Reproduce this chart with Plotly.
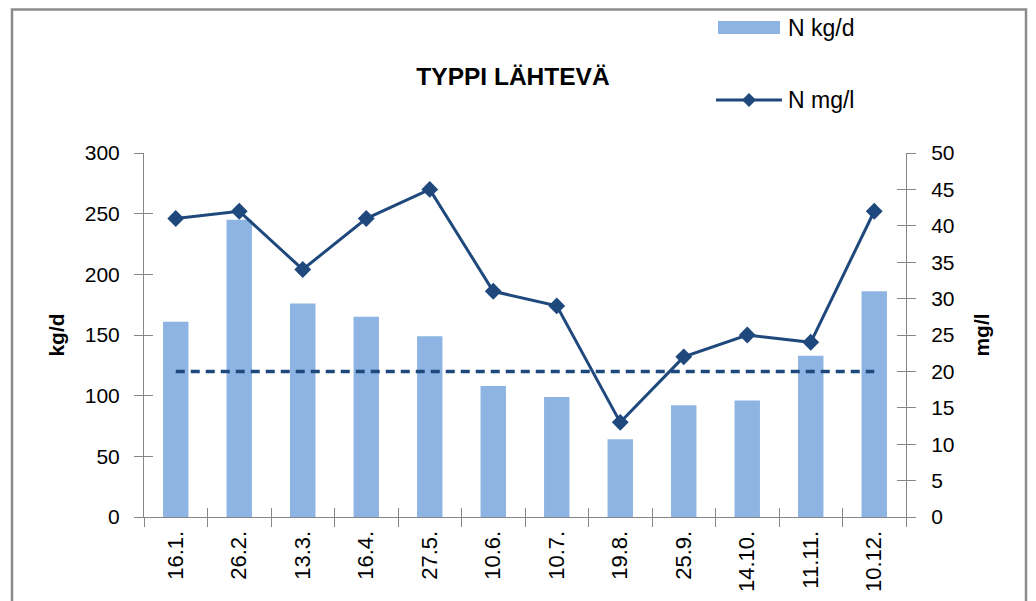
import plotly.graph_objects as go

# ---- data ----
dates = ["16.1.", "26.2.", "13.3.", "16.4.", "27.5.", "10.6.", "10.7.",
         "19.8.", "25.9.", "14.10.", "11.11.", "10.12."]
n_kgd = [161, 245, 176, 165, 149, 108, 99, 64, 92, 96, 133, 186]
n_mgl = [41, 42, 34, 41, 45, 31, 29, 13, 22, 25, 24, 42]
limit_mgl = [20, 20, 20, 20, 20, 20, 20, 20, 20, 20, 20, 20]
left_ticks = [0, 50, 100, 150, 200, 250, 300]
right_ticks = [0, 5, 10, 15, 20, 25, 30, 35, 40, 45, 50]
legend_names = ["N kg/d", "N mg/l"]

BAR = "#8DB4E2"
LINE = "#1F497D"
AXIS = "#868686"
FONT = "Liberation Sans"

W, H = 1036, 601
OFF = 8  # page body margin offset in the browser
# plot area in screen pixels
L, R, T, B = 144, 906, 153, 517
PW, PH = R - L, B - T


def px(x):
    return (x - L) / PW


def py(y):
    return (B - y) / PH


fig = go.Figure()
fig.add_trace(go.Bar(x=dates, y=n_kgd, name=legend_names[0],
                     marker=dict(color=BAR, line=dict(width=0)), yaxis="y"))
fig.add_trace(go.Scatter(x=dates, y=limit_mgl, mode="lines",
                         line=dict(color=LINE, width=3.5, dash="9px,6px"), yaxis="y2"))
fig.add_trace(go.Scatter(x=dates, y=n_mgl, name=legend_names[1], mode="lines+markers",
                         line=dict(color=LINE, width=3),
                         marker=dict(symbol="diamond", size=13, color=LINE), yaxis="y2"))
# empty traces so the overlay (inner) tick axes are drawn
fig.add_trace(go.Scatter(x=[], y=[], xaxis="x2", yaxis="y3"))
fig.add_trace(go.Scatter(x=[], y=[], xaxis="x2", yaxis="y4"))

n = len(dates)
boundaries = [i - 0.5 for i in range(n + 1)]

fig.update_layout(
    width=W, height=H,
    margin=dict(l=L - OFF, r=W - (R - OFF), t=T - OFF, b=H - (B - OFF), autoexpand=False),
    paper_bgcolor="white", plot_bgcolor="white",
    font=dict(family=FONT, size=21, color="#000000"),
    bargap=0.6,
    showlegend=False,
    title=dict(text="<b>TYPPI LÄHTEVÄ</b>", x=(513 - OFF) / W, xanchor="center",
               y=1 - (76 - OFF) / H, yanchor="middle", font=dict(size=24.5)),
    xaxis=dict(type="category", range=[-0.5, n - 0.5], tickson="boundaries",
               ticks="outside", ticklen=9, tickcolor=AXIS, showline=True, linecolor=AXIS,
               linewidth=1, showgrid=False, tickangle=-90, tickfont=dict(size=22),
               ticklabelstandoff=4, zeroline=False, automargin=False),
    xaxis2=dict(overlaying="x", anchor="y", range=[-0.5, n - 0.5], tickmode="array",
                tickvals=boundaries, ticks="inside", ticklen=9, tickcolor=AXIS,
                showticklabels=False, showgrid=False, zeroline=False, showline=False,
                side="bottom"),
    yaxis=dict(range=[0, 300], tickvals=left_ticks, ticks="outside", ticklen=9,
               tickcolor=AXIS, showline=True, linecolor=AXIS, showgrid=False,
               zeroline=False, ticklabelstandoff=10, automargin=False,
               title=dict(text="<b>kg/d</b>", font=dict(size=21), standoff=14)),
    yaxis2=dict(range=[0, 50], tickvals=right_ticks, overlaying="y", side="right",
                ticks="outside", ticklen=9, tickcolor=AXIS, showline=True, linecolor=AXIS,
                showgrid=False, zeroline=False, ticklabelstandoff=11, automargin=False,
                title=dict(text="<b>mg/l</b>", font=dict(size=21), standoff=20)),
    yaxis3=dict(range=[0, 300], tickvals=left_ticks, overlaying="y", side="left",
                anchor="x2", ticks="inside", ticklen=9, tickcolor=AXIS,
                showticklabels=False, showgrid=False, zeroline=False, showline=False),
    yaxis4=dict(range=[0, 50], tickvals=right_ticks, overlaying="y", side="right",
                anchor="x2", ticks="inside", ticklen=9, tickcolor=AXIS,
                showticklabels=False, showgrid=False, zeroline=False, showline=False),
)

# outer chart frame
fig.add_shape(type="rect", xref="paper", yref="paper",
              x0=px(12), x1=px(1026), y0=py(620), y1=py(9.5),
              line=dict(color="#8C8C8C", width=2.5), fillcolor="rgba(0,0,0,0)", layer="below")

# legend (drawn manually to match the wide swatches)
fig.add_shape(type="rect", xref="paper", yref="paper",
              x0=px(718), x1=px(780), y0=py(34), y1=py(21),
              line=dict(width=0), fillcolor=BAR)
fig.add_shape(type="line", xref="paper", yref="paper",
              x0=px(716), x1=px(782), y0=py(100), y1=py(100),
              line=dict(color=LINE, width=3))
fig.add_shape(type="path", xref="paper", yref="paper",
              path=f"M {px(749)} {py(93)} L {px(756)} {py(100)} L {px(749)} {py(107)} "
                   f"L {px(742)} {py(100)} Z",
              line=dict(width=0), fillcolor=LINE)
fig.add_annotation(text=legend_names[0], xref="paper", yref="paper",
                   x=px(786), y=py(28), xanchor="left", yanchor="middle",
                   showarrow=False, font=dict(size=23))
fig.add_annotation(text=legend_names[1], xref="paper", yref="paper",
                   x=px(786), y=py(100), xanchor="left", yanchor="middle",
                   showarrow=False, font=dict(size=23))

fig.write_html("out.html")
